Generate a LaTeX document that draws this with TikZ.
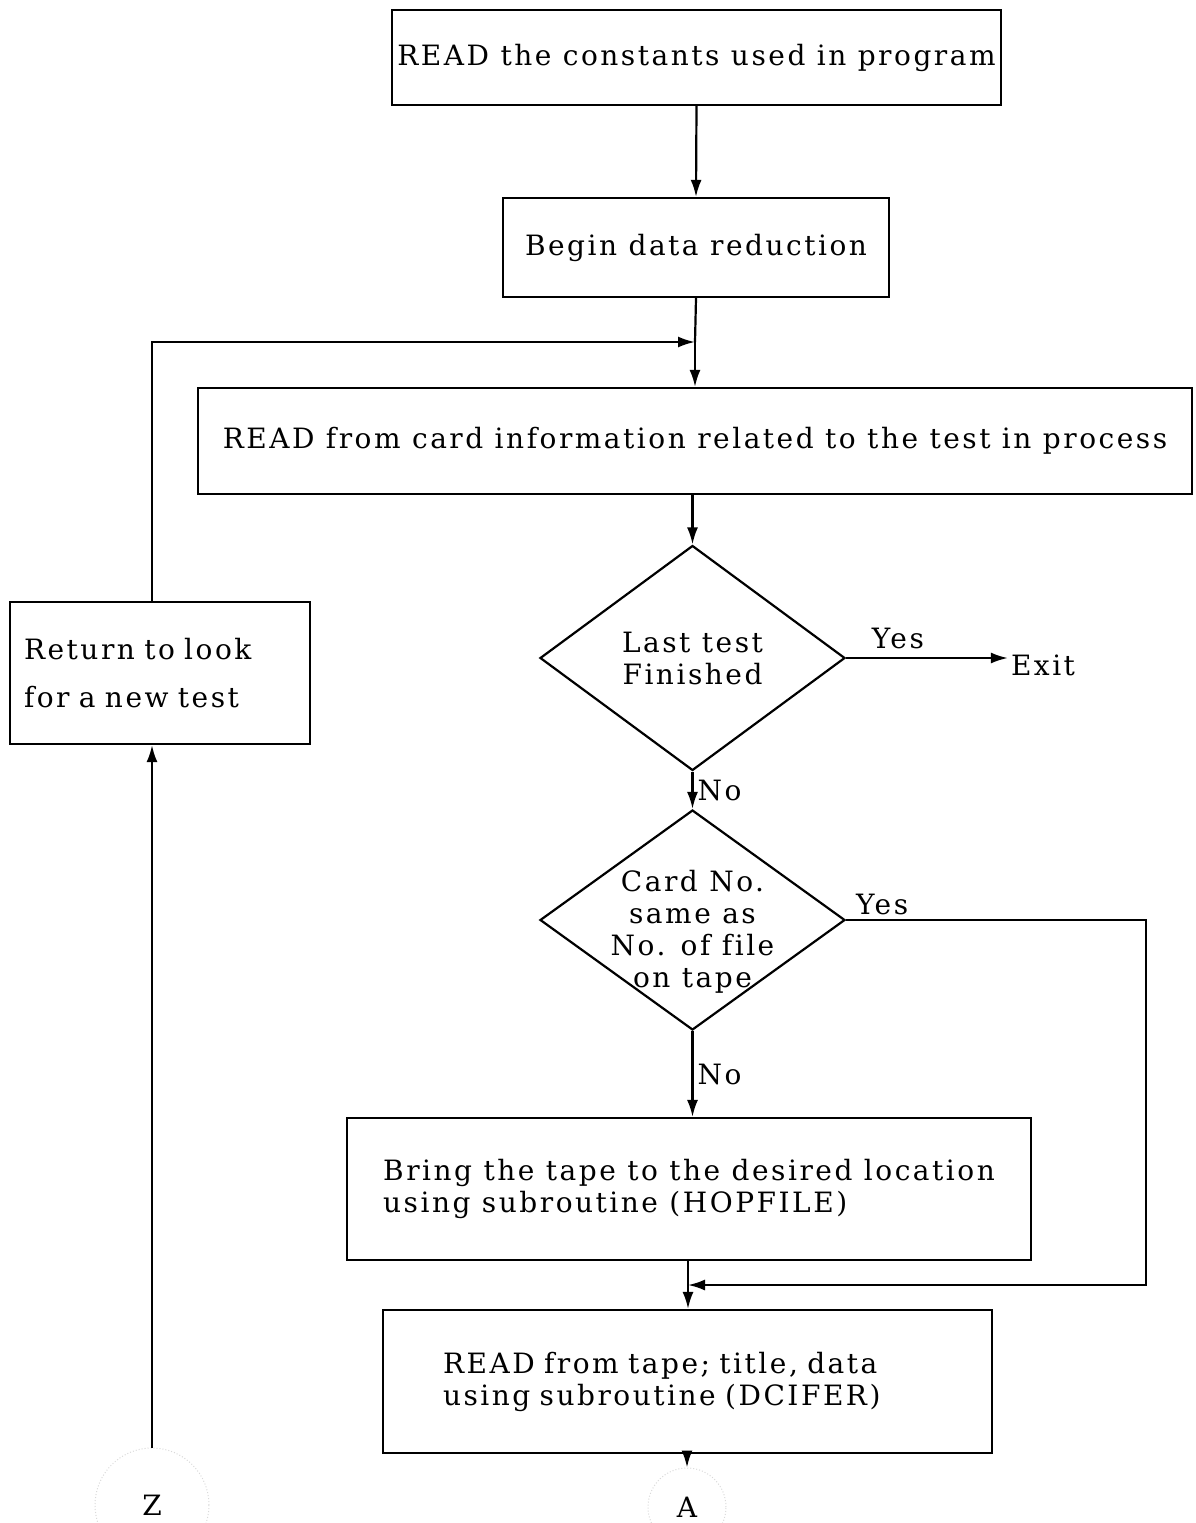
\documentclass[tikz,border=0pt]{standalone}
\usepackage{fontspec}
\setmainfont{DejaVu Serif}[LetterSpace=9, Ligatures={NoCommon}]
\usetikzlibrary{shapes.geometric,arrows.meta}

\begin{document}
\begin{tikzpicture}[x=1pt, y=-1pt, line width=2.2pt, font=\fontsize{28}{32}\selectfont,
  box/.style={draw, rectangle, inner sep=0pt, align=left},
  decision/.style={draw, diamond, inner sep=-40pt, align=center},
  label/.style={inner sep=2pt},
  offpage/.style={circle, draw=black!15, dotted, line width=1pt, minimum size=114pt, inner sep=0pt},
  flow/.style={-{Latex[length=17pt,width=11pt]}}]
\useasboundingbox (0,0) rectangle (1195,1523);

\node (consts) at (696.5,57.5) [box, minimum width=609pt, minimum height=95pt] {READ the constants used in program};
\node (begin) at (696,247.5) [box, minimum width=386pt, minimum height=99pt] {Begin data reduction};
\node (card) at (695,441) [box, minimum width=994pt, minimum height=106pt] {READ from card information related to the test in process};
\node (last) at (692.5,658) [decision, minimum width=305pt, minimum height=225pt] {Last test\\Finished};
\node (exit) at (1043,665) [label] {Exit};
\node (same) at (692.5,920) [decision, minimum width=305pt, minimum height=220pt] {\rule{0pt}{44pt}Card No.\\same as\\No. of file\\on tape};
\node (hop) at (689,1189) [box, minimum width=684pt, minimum height=142pt] {Bring the tape to the desired location\\using subroutine (HOPFILE)};
\node (tape) at (687.5,1381.5) [box, minimum width=609pt, minimum height=143pt, text width=489pt] {READ from tape; title, data\\using subroutine (DCIFER)};
\node (ret) at (160,673) [box, minimum width=300pt, minimum height=142pt, text width=272pt, font=\fontsize{28}{48}\selectfont] {Return to look\\for a new test};
\node (z) at (152,1505) [offpage] {Z};
\node (a) at (687,1507) [offpage, minimum size=78pt] {A};
\coordinate (join) at (695,342);
\coordinate (merge) at (688,1285);

\draw[flow] (consts.south) -- (begin.north);
\draw (begin.south) -- (join);
\draw[flow] (join) -- (card.north);
\draw[flow] (card.south -| last.north) -- (last.north);
\draw[flow] (last.east) -- node[label, above=6pt, pos=0.32] {Yes} (last.east -| exit.west);
\draw[flow] (last.south) -- node[label, right=2pt] {No} (same.north);
\draw[flow] (same.east) -- ++(300,0) |- (merge);
\path (same.east) -- ++(36,0) node[label, above=2pt] {Yes};
\draw[flow] (same.south) -- node[label, right=2pt] {No} (same.south |- hop.north);
\draw (hop.south -| merge) -- (merge);
\draw[flow] (merge) -- (merge |- tape.north);
\draw[flow] (tape.south -| a.north) -- (a.north);
\draw[flow] (z.north) -- (z.north |- ret.south);
\draw[flow] (ret.north -| z.north) |- (join);
\end{tikzpicture}
\end{document}
